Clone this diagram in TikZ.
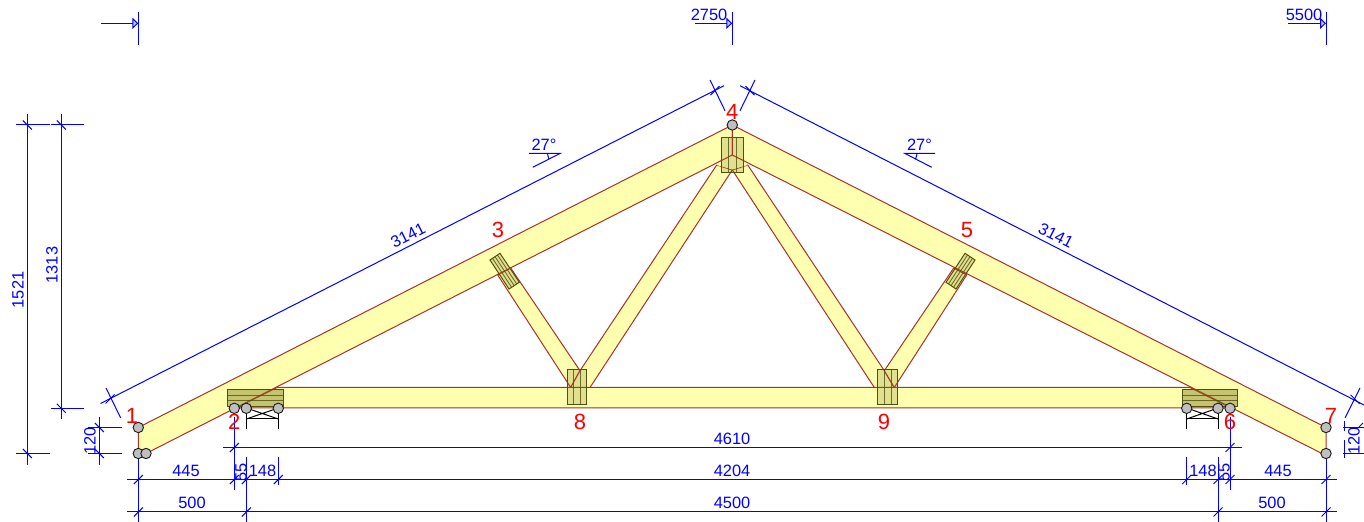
\documentclass[tikz,border=0pt]{standalone}
\usepackage{fontspec}
\setmainfont{Liberation Sans}
\usepackage{xcolor}
\usetikzlibrary{arrows.meta, calc, positioning}
\definecolor{truss-line}{RGB}{170,50,40}
\definecolor{truss-fill}{RGB}{255,255,176}
\definecolor{plate-line}{RGB}{80,80,15}
\tikzset{
  %Timber
  timber/.style={draw=truss-line, fill=truss-fill, line width=0.5pt, line join=round},
  plate/.style={draw=plate-line, fill=olive!80!black, fill opacity=0.22, line width=0.5pt},
  end-plate/.style={plate, fill opacity=0.42},
  board/.style={draw=plate-line, draw opacity=0.8, line width=0.45pt},
  joint/.style={circle, draw=black!90, fill=black!25, minimum size=5.2pt, inner sep=0pt, line width=0.45pt},
  stand/.style={draw=black, line width=0.5pt},
  %Dimensions
  dim/.style={draw=blue, line width=0.5pt},
  dim-arrow/.style={dim, -{Triangle[length=3pt, width=5.6pt, fill=blue!25]}},
  dim-text/.style={text=blue, font=\fontsize{8.2}{9}\selectfont, inner sep=0pt},
  num/.style={text=red, font=\fontsize{11}{12}\selectfont, inner sep=0pt}
}
\begin{document}
\begin{tikzpicture}[x=0.5pt, y=-0.5pt]
    \useasboundingbox (0,0) rectangle (1364,522);
    % --- Bottom chord and webs ---
    \draw[timber] (277,387.5) -- (1190,387.5) -- (1231,408) -- (236,408) -- cycle;
    \draw[timber] (497.7,275) -- (510.7,268) -- (580,370.7) -- (570.7,387.5) -- cycle;
    \draw[timber] (580,370.7) -- (716.7,165) -- (732.3,170) -- (590,387.5) -- (570.7,387.5) -- cycle;
    \draw[timber] (884.3,370.7) -- (747.7,165) -- (732.3,170) -- (874.3,387.5) -- (894.3,387.5) -- cycle;
    \draw[timber] (966.7,275) -- (953.7,268) -- (884.3,370.7) -- (894.3,387.5) -- cycle;
    \draw[truss-line, line width=0.5pt] (570.7,387.5) -- (590,387.5) (874.3,387.5) -- (894.3,387.5);
    \fill[truss-fill] (716.7,165) -- (732.3,153) -- (747.7,165) -- (732.3,169.5) -- cycle;
    % --- Rafters ---
    \draw[timber] (138.3,427.5) -- (732.3,125) -- (732.3,155) -- (146,453.5) -- (138.3,453.5) -- cycle;
    \draw[timber] (1326,427.5) -- (732.3,125) -- (732.3,155) -- (1322,453.5) -- (1326,453.5) -- cycle;
    % --- Plates ---
    \draw[end-plate] (227,390) rectangle (283,407);
    \draw[board] (227,395) -- (283,395) (227,400.5) -- (283,400.5);
    \draw[end-plate] (1182,390) rectangle (1237.5,407);
    \draw[board] (1182,395) -- (1237.5,395) (1182,400.5) -- (1237.5,400.5);
    \draw[plate] (567.3,370) rectangle (586.7,405);
    \draw[board] (573.5,370) -- (573.5,405) (580.7,370) -- (580.7,405);
    \draw[plate] (877.7,370) rectangle (897.7,405);
    \draw[board] (884.3,370) -- (884.3,405) (891,370) -- (891,405);
    \draw[plate] (721,137.7) rectangle (743.7,172.3);
    \draw[board] (728.3,137.7) -- (728.3,172.3) (736,137.7) -- (736,172.3);
    \coordinate (p3a) at (490,260);
    \coordinate (p3b) at (500,253.3);
    \coordinate (p3c) at (519.3,282.3);
    \coordinate (p3d) at (509,289);
    \draw[plate] (p3a) -- (p3b) -- (p3c) -- (p3d) -- cycle;
    \coordinate (p5a) at (975,260);
    \coordinate (p5b) at (965,253.3);
    \coordinate (p5c) at (946,282.3);
    \coordinate (p5d) at (956,289);
    \draw[plate] (p5a) -- (p5b) -- (p5c) -- (p5d) -- cycle;
    \foreach \t in {0.25, 0.5, 0.75} {
        \draw[board] ($(p3a)!\t!(p3b)$) -- ($(p3d)!\t!(p3c)$);
        \draw[board] ($(p5a)!\t!(p5b)$) -- ($(p5d)!\t!(p5c)$);
    }
    \draw[truss-line, line width=0.5pt] (732.3,125) -- (732.3,155);
    % --- Supports ---
    \draw[stand] (246.3,408) -- (246.3,429.5) (278.3,408) -- (278.3,429.5) (246.3,419) -- (278.3,419);
    \draw[stand] (246.3,408) -- (278.3,419) (278.3,408) -- (246.3,419);
    \draw[stand] (1186.7,408) -- (1186.7,429.5) (1218,408) -- (1218,429.5) (1186.7,419) -- (1218,419);
    \draw[stand] (1186.7,408) -- (1218,419) (1218,408) -- (1186.7,419);

    % --- Top marks ---
    \node[dim-text] (t2750) at (709,14.5) {2750};
    \node[dim-text] (t5500) at (1304,14.5) {5500};
    \coordinate (m0) at (138.3,23.3);
    \coordinate (m1) at (732.3,23.3);
    \coordinate (m2) at (1326,23.3);
    \draw[dim-arrow] (101,23.3) -- (m0);
    \draw[dim-arrow] (695,23.3) -- (m1);
    \draw[dim-arrow] (1288,23.3) -- (m2);
    \draw[dim] (138.3,12) -- (138.3,45) (732.3,12) -- (732.3,45) (1326,12) -- (1326,45);

    % --- Left dimensions ---
    \draw[dim] (27.3,114) -- (27.3,465) (61.3,114) -- (61.3,419) (99.3,417) -- (99.3,465);
    \draw[dim] (16,125) -- (50,125) (16,453.5) -- (50,453.5);
    \draw[dim] (51,125) -- (84,125) (51,408.3) -- (84,408.3);
    \draw[dim] (88,427.5) -- (122,427.5) (88,453.5) -- (122,453.5);
    \foreach \x/\y in {27.3/125, 27.3/453.5, 61.3/125, 61.3/408.3, 99.3/427.5, 99.3/453.5}
        \draw[dim] (\x-4.5,\y-4.5) -- (\x+4.5,\y+4.5);
    \node[dim-text, rotate=90] (t1521) at (18,290) {1521};
    \node[dim-text, rotate=90] (t1313) at (52,265) {1313};
    \node[dim-text, rotate=90] (t120a) at (90,441) {120};

    % --- Right dimension, cut by the edge ---
    \draw[dim] (1343,427.5) -- (1364,427.5) (1343,453.5) -- (1364,453.5);
    \draw[dim] (1344,421) -- (1344,431) (1344,440) -- (1344,458);
    \draw[dim] (1359,427) -- (1363,423);
    \node[dim-text, rotate=90] (t120b) at (1354,441) {120};

    % --- Rafter lengths ---
    \draw[dim] (100.5,403.5) -- (724,85.7);
    \draw[dim] (106,388) -- (120.7,418) (710,80) -- (725,110.7);
    \draw[dim] (105.5,403.5) -- (114.5,394.5) (710.5,95.2) -- (719.5,86.2);
    \draw[dim] (740,85.7) -- (1364,405);
    \draw[dim] (755,80) -- (740,110.7) (1360,388) -- (1345,418);
    \draw[dim] (745.5,86.2) -- (754.5,95.2) (1350.5,394.8) -- (1359.5,403.8);
    \node[dim-text, rotate=27] (t3141a) at (408,235.5) {3141};
    \node[dim-text, rotate=-27] (t3141b) at (1056,235.5) {3141};

    % --- Slopes ---
    \node[dim-text] (t27a) at (544,144.5) {27°};
    \draw[dim] (529,153.5) -- (560,153.5) -- (532.7,167.3);
    \draw[dim] (547.5,154) -- (549,159.5);
    \node[dim-text] (t27b) at (919.5,144.5) {27°};
    \draw[dim] (935,153.5) -- (905,153.5) -- (931.7,167.3);
    \draw[dim] (917,154) -- (915.5,159.5);

    % --- Bottom dimensions ---
    \draw[dim] (223,447.5) -- (1241.7,447.5);
    \draw[dim] (127,479.5) -- (1337,479.5);
    \draw[dim] (127,512) -- (1337,512);
    \draw[dim] (138.3,453.5) -- (138.3,522) (246.3,457) -- (246.3,522);
    \draw[dim] (1218,457) -- (1218,522) (1326,453.5) -- (1326,522);
    \draw[dim] (234.3,417) -- (234.3,490) (1230,417) -- (1230,490);
    \draw[dim] (278.3,457) -- (278.3,485) (1186.7,457) -- (1186.7,485);
    \foreach \x/\y in {234.3/447.5, 1230/447.5,
            138.3/479.5, 234.3/479.5, 246.3/479.5, 278.3/479.5,
            1186.7/479.5, 1218/479.5, 1230/479.5, 1326/479.5,
            138.3/512, 246.3/512, 1218/512, 1326/512}
        \draw[dim] (\x-4.5,\y+4.5) -- (\x+4.5,\y-4.5);
    \node[dim-text] (t4610) at (732,438.5) {4610};
    \node[dim-text] (t445a) at (186,470.5) {445};
    \node[dim-text, rotate=90] (t55a) at (241,472) {55};
    \node[dim-text] (t148a) at (262.5,470.5) {148};
    \node[dim-text] (t4204) at (732,470.5) {4204};
    \node[dim-text] (t148b) at (1203,470.5) {148};
    \node[dim-text, rotate=90] (t55b) at (1224,472) {55};
    \node[dim-text] (t445b) at (1278,470.5) {445};
    \node[dim-text] (t500a) at (192,503) {500};
    \node[dim-text] (t4500) at (732,503) {4500};
    \node[dim-text] (t500b) at (1272,503) {500};

    % --- Joints ---
    \node[joint] (j1) at (138.3,427.5) {};
    \node[joint] (j1b) at (138.3,453.5) {};
    \node[joint] (j1c) at (146,453.5) {};
    \node[joint] (j2) at (234.3,408.3) {};
    \node[joint] (j2b) at (246.3,408.3) {};
    \node[joint] (j2c) at (278.3,408.3) {};
    \node[joint] (j4) at (732.3,125) {};
    \node[joint] (j6c) at (1186.7,408.3) {};
    \node[joint] (j6b) at (1218,408.3) {};
    \node[joint] (j6) at (1230,408.3) {};
    \node[joint] (j7) at (1326,427.5) {};
    \node[joint] (j7b) at (1326,453.5) {};
    % Numbers
    \node[num] (n1) at (132,416) {1};
    \node[num] (n2) at (234.3,422) {2};
    \node[num] (n3) at (498,230) {3};
    \node[num] (n4) at (732.3,112) {4};
    \node[num] (n5) at (967,230) {5};
    \node[num] (n6) at (1230,422) {6};
    \node[num] (n7) at (1331,416) {7};
    \node[num] (n8) at (580,422) {8};
    \node[num] (n9) at (884,422) {9};
\end{tikzpicture}
\end{document}
